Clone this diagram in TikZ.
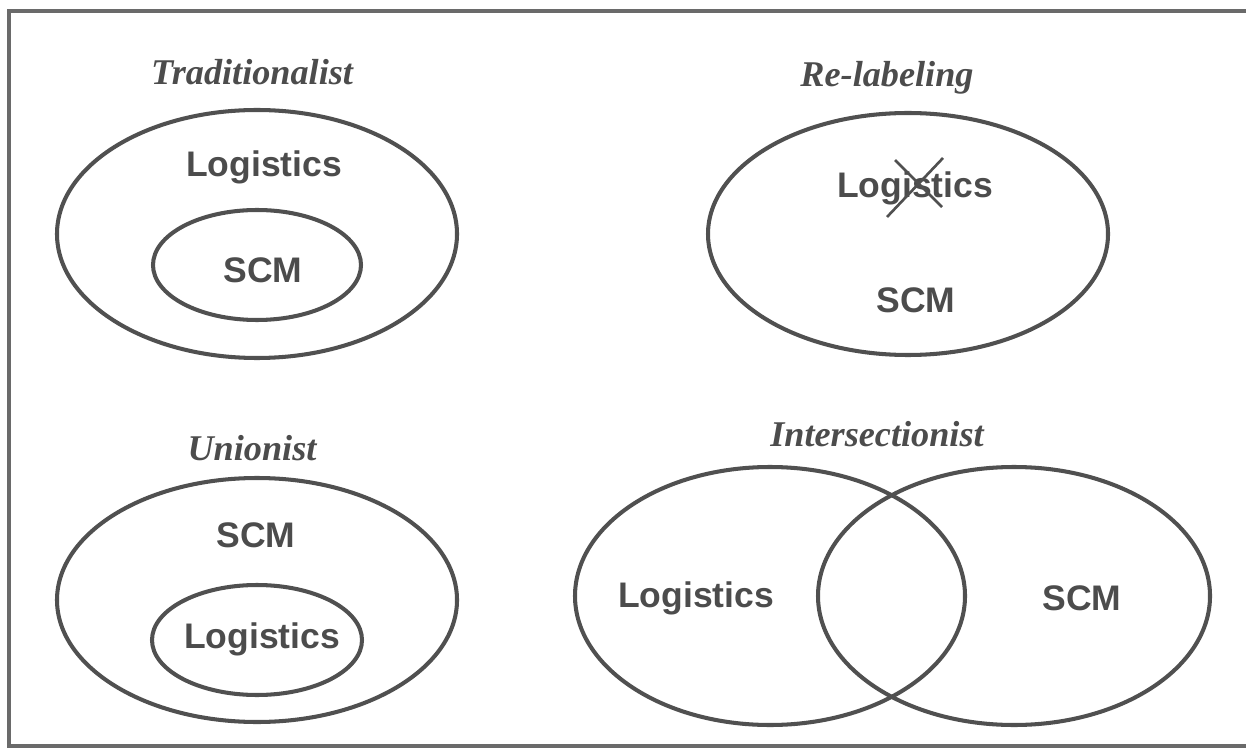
\documentclass[tikz,border=0pt]{standalone}
\usepackage{fontspec}
\setmainfont{Liberation Serif}
\setsansfont{Liberation Sans}
\definecolor{ink}{HTML}{505050}
\definecolor{txt}{HTML}{4C4C4C}
\begin{document}
\begin{tikzpicture}[x=0.01cm,y=-0.01cm,
  ring/.style={draw=ink,line width=1.15pt},
  frameline/.style={draw=ink!85,line width=1.2pt},
  title/.style={anchor=base,inner sep=0pt,text=txt,font=\fontsize{10.3pt}{12pt}\selectfont\bfseries\itshape},
  lbl/.style={anchor=base,inner sep=0pt,text=txt,font=\fontsize{10.1pt}{12pt}\selectfont\sffamily\bfseries},
  crossline/.style={draw=ink,line width=0.75pt}]
\useasboundingbox (0,0) rectangle (1246,749);
% frame
\draw[frameline] (1250,11) -- (9,11) -- (9,746) -- (1250,746);
% Traditionalist
\node[title] (t1) at (252,85) {Traditionalist};
\draw[ring] (257,234) ellipse [x radius=200,y radius=124];
\draw[ring] (257,265) ellipse [x radius=104,y radius=55];
\node[lbl] (t1log) at (264,177) {Logistics};
\node[lbl] (t1scm) at (263,283) {SCM};
% Re-labeling
\node[title] (t2) at (887,87) {Re-labeling};
\draw[ring] (908,234) ellipse [x radius=200,y radius=121];
\node[lbl] (t2log) at (915,198) {Logistics};
\node[lbl] (t2scm) at (916,313) {SCM};
\coordinate (xa1) at (895,160);
\coordinate (xa2) at (942,207);
\coordinate (xb1) at (943,158);
\coordinate (xb2) at (887,217);
\draw[crossline] (xa1) -- (xa2);
\draw[crossline] (xb1) -- (xb2);
% Unionist
\node[title] (t3) at (252,460) {Unionist};
\draw[ring] (257,600) ellipse [x radius=200,y radius=122];
\draw[ring] (257,640) ellipse [x radius=105,y radius=55];
\node[lbl] (t3scm) at (256,547) {SCM};
\node[lbl] (t3log) at (262,648) {Logistics};
% Intersectionist
\node[title] (t4) at (877,446) {Intersectionist};
\draw[ring] (770,596) ellipse [x radius=195,y radius=129];
\draw[ring] (1014,596) ellipse [x radius=196,y radius=129];
\node[lbl] (t4log) at (696,607) {Logistics};
\node[lbl] (t4scm) at (1082,610) {SCM};
\end{tikzpicture}
\end{document}
